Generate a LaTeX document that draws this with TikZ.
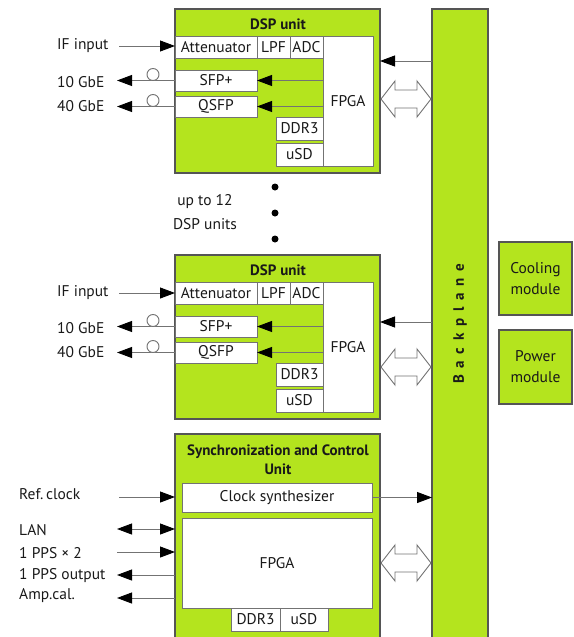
\documentclass[tikz,border=0pt]{standalone}
\usepackage{fontspec}
\setmainfont{PT Sans}
\usetikzlibrary{arrows.meta}
\definecolor{grn}{RGB}{180,228,30}
\definecolor{edge}{RGB}{85,85,85}
\definecolor{ln}{RGB}{115,115,115}
\definecolor{txt}{RGB}{25,25,25}
\newcommand\rbox[7]{\node[#6, minimum width={(#4-#2)*1pt}, minimum height={(#5-#3)*1pt}] (#1) at ({(#2+#4)/2},{(#3+#5)/2}) {#7};}
\newcommand\hollowdbl[1]{\draw[draw=ln, line width=0.9pt, fill=white]
  (381,#1) -- (395,#1-18) -- (395,#1-9) -- (417,#1-9) -- (417,#1-18) -- (431,#1)
  -- (417,#1+18) -- (417,#1+9) -- (395,#1+9) -- (395,#1+18) -- cycle;}
\begin{document}
\begin{tikzpicture}[x=1pt,y=-1pt, font=\fontsize{15.5}{17}\selectfont, text=txt,
  unit/.style={draw=edge, line width=1.3pt, fill=grn, inner sep=0pt, outer sep=0pt},
  part/.style={draw=ln, line width=0.9pt, fill=white, inner sep=0pt, outer sep=0pt, text=txt},
  arr/.style={draw=ln, line width=0.9pt, -{Triangle[length=15pt,width=11pt,color=black]}},
  darr/.style={draw=ln, line width=0.9pt, {Triangle[length=15pt,width=11pt,color=black]}-{Triangle[length=15pt,width=11pt,color=black]}},
  lbl/.style={anchor=west, inner sep=0pt},
  ttl/.style={font=\fontsize{15}{19}\selectfont\bfseries, align=center, inner sep=0pt},
  dot/.style={circle, fill=black, inner sep=0pt, minimum size=7pt},
  ring/.style={circle, draw=ln, line width=0.9pt, fill=white, inner sep=0pt, minimum size=12pt}]
\useasboundingbox (0,0) rectangle (573,637);

% Backplane
\rbox{bp}{432}{9}{488}{642}{unit}{}
\node[rotate=90, font=\fontsize{15}{17}\selectfont\bfseries\addfontfeatures{LetterSpace=45}] (bptxt) at (460,324) {Backplane};

% Cooling / Power
\rbox{cool}{499}{242}{572}{315}{unit,align=center,font=\fontsize{15.5}{21}\selectfont}{Cooling\\module}
\rbox{pow}{499}{330}{572}{404}{unit,align=center,font=\fontsize{15.5}{21}\selectfont}{Power\\module}

% ---------------- DSP unit 1 ----------------
\rbox{dspA}{175}{9}{380}{173}{unit}{}
\node[ttl] (dspAt) at (278,24) {DSP unit};
\rbox{attA}{175}{36}{257}{58}{part}{Attenuator}
\rbox{lpfA}{257}{36}{290}{58}{part}{LPF}
\rbox{adcA}{290}{36}{323}{58}{part}{ADC}
\rbox{fpgaA}{323}{36}{373}{166}{part}{FPGA}
\rbox{sfpA}{175}{70}{257}{91}{part}{SFP+}
\rbox{qsfpA}{175}{96}{257}{117}{part}{QSFP}
\rbox{ddrA}{276}{117}{323}{140}{part}{DDR3}
\rbox{usdA}{276}{143}{323}{166}{part}{uSD}
\draw[arr] (fpgaA.west |- sfpA.east) -- (sfpA.east);
\draw[arr] (fpgaA.west |- qsfpA.east) -- (qsfpA.east);
\draw[arr] (bp.west |- 0,61) -- (dspA.east |- 0,61);
\hollowdbl{99}
\node[lbl] (ifA) at (57,46) {IF input};
\coordinate (ifAs) at (119,46);
\draw[arr] (ifAs) -- (attA.west |- ifAs);
\node[lbl] (tenA) at (57,82) {10 GbE};
\coordinate (tenAe) at (117,80.5);
\draw[arr] (sfpA.west) -- (tenAe);
\node[ring] (ringA1) at (153,74.5) {};
\node[lbl] (fortyA) at (57,106) {40 GbE};
\coordinate (fortyAe) at (117,106.5);
\draw[arr] (qsfpA.west) -- (fortyAe);
\node[ring] (ringA2) at (153,100.5) {};

% dots
\node[dot] (d1) at (275,187) {};
\node[dot] (d2) at (275,213) {};
\node[dot] (d3) at (275,239) {};
\node[align=center, inner sep=0pt, font=\fontsize{15.5}{24}\selectfont] (upto) at (205,212) {up to 12\\DSP units};

% ---------------- DSP unit 2 ----------------
\rbox{dspB}{175}{255}{380}{419}{unit}{}
\node[ttl] (dspBt) at (278,270) {DSP unit};
\rbox{attB}{175}{282}{257}{304}{part}{Attenuator}
\rbox{lpfB}{257}{282}{290}{304}{part}{LPF}
\rbox{adcB}{290}{282}{323}{304}{part}{ADC}
\rbox{fpgaB}{323}{282}{373}{412}{part}{FPGA}
\rbox{sfpB}{175}{316}{257}{337}{part}{SFP+}
\rbox{qsfpB}{175}{342}{257}{363}{part}{QSFP}
\rbox{ddrB}{276}{363}{323}{386}{part}{DDR3}
\rbox{usdB}{276}{389}{323}{412}{part}{uSD}
\draw[arr] (fpgaB.west |- sfpB.east) -- (sfpB.east);
\draw[arr] (fpgaB.west |- qsfpB.east) -- (qsfpB.east);
\draw[arr] (bp.west |- 0,322) -- (dspB.east |- 0,322);
\hollowdbl{367}
\node[lbl] (ifB) at (57,293) {IF input};
\coordinate (ifBs) at (119,293);
\draw[arr] (ifBs) -- (attB.west |- ifBs);
\node[lbl] (tenB) at (57,328) {10 GbE};
\coordinate (tenBe) at (117,326.5);
\draw[arr] (sfpB.west) -- (tenBe);
\node[ring] (ringB1) at (153,320.5) {};
\node[lbl] (fortyB) at (57,352) {40 GbE};
\coordinate (fortyBe) at (117,352.5);
\draw[arr] (qsfpB.west) -- (fortyBe);
\node[ring] (ringB2) at (153,346.5) {};

% ---------------- Sync unit ----------------
\rbox{sync}{175}{434}{380}{642}{unit}{}
\node[ttl] (synct) at (278,460) {Synchronization and Control\\Unit};
\rbox{clk}{182}{483}{372}{512}{part}{Clock synthesizer}
\rbox{fpgaS}{182}{518}{372}{608}{part}{FPGA}
\rbox{ddrS}{231}{608}{280}{631}{part}{DDR3}
\rbox{usdS}{280}{608}{328}{631}{part}{uSD}
\draw[arr] (clk.east) -- (bp.west |- clk.east);
\hollowdbl{563}

\node[lbl] (ref) at (19,494) {Ref.\,clock};
\coordinate (refs) at (119,497);
\draw[arr] (refs) -- (sync.west |- refs);
\node[lbl] (lan) at (19,530) {LAN};
\coordinate (lans) at (117,529);
\draw[darr] (lans) -- (sync.west |- lans);
\node[lbl] (pps) at (19,553) {1 PPS × 2};
\coordinate (ppss) at (117,552);
\draw[arr] (ppss) -- (sync.west |- ppss);
\node[lbl] (ppso) at (19,576) {1 PPS output};
\coordinate (ppsoe) at (117,575);
\draw[arr] (sync.west |- ppsoe) -- (ppsoe);
\node[lbl] (amp) at (19,596) {Amp.cal.};
\coordinate (ampe) at (117,598);
\draw[arr] (sync.west |- ampe) -- (ampe);
\end{tikzpicture}
\end{document}
